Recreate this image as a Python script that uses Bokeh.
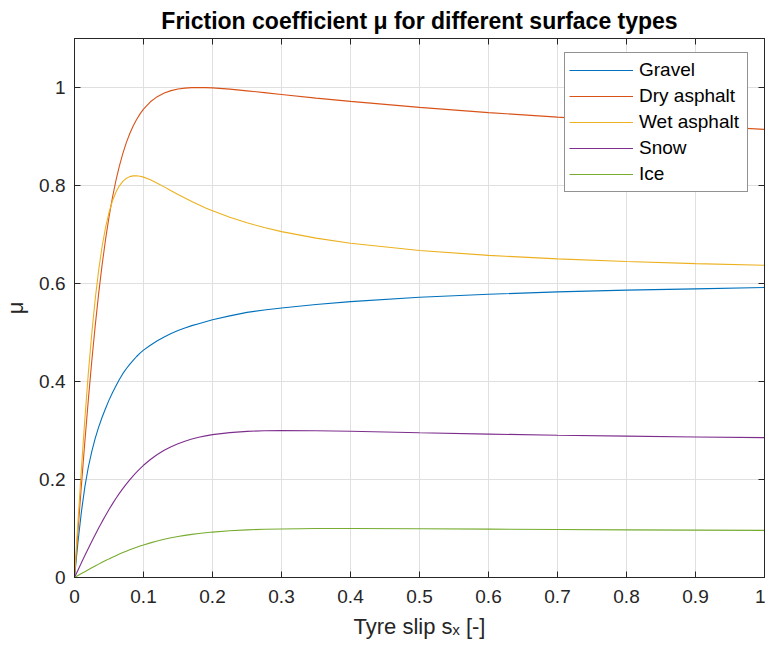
from bokeh.plotting import figure
from bokeh.models import (Range1d, FixedTicker, CustomJSTickFormatter, LinearAxis,
                          Legend, LegendItem)
from bokeh.embed import file_html
from bokeh.resources import INLINE

# ---- data ----
slip = [0, 0.005, 0.01, 0.015, 0.02, 0.025, 0.03, 0.035, 0.04, 0.045, 0.05,
        0.055, 0.06, 0.065, 0.07, 0.075, 0.08, 0.085, 0.09, 0.095, 0.10,
        0.11, 0.12, 0.13, 0.14, 0.15, 0.16, 0.17, 0.18, 0.19, 0.20,
        0.225, 0.25, 0.275, 0.30, 0.35, 0.40, 0.50, 0.60, 0.70, 0.80, 0.90, 1.00]
gravel = [0, 0.072, 0.134, 0.185, 0.225, 0.257, 0.284, 0.307, 0.327, 0.345, 0.362,
          0.377, 0.391, 0.404, 0.416, 0.426, 0.435, 0.443, 0.451, 0.458, 0.464,
          0.474, 0.483, 0.491, 0.498, 0.504, 0.509, 0.514, 0.518, 0.522, 0.526,
          0.534, 0.541, 0.546, 0.550, 0.557, 0.563, 0.572, 0.578, 0.583, 0.5865,
          0.589, 0.592]
dry_asphalt = [0, 0.0948, 0.1877, 0.2772, 0.3620, 0.4410, 0.5135, 0.5793, 0.6379,
               0.6899, 0.7356, 0.7755, 0.8099, 0.8396, 0.8651, 0.8870, 0.9056,
               0.9214, 0.9348, 0.9462, 0.9558, 0.9708, 0.9813, 0.9887, 0.9936,
               0.9968, 0.9987, 0.9997, 1.0000, 0.9998, 0.9992, 0.9966, 0.9932,
               0.9895, 0.9858, 0.9783, 0.9716, 0.9594, 0.9488, 0.9395, 0.9308,
               0.9226, 0.9145]
wet_asphalt = [0, 0.1125, 0.2214, 0.3234, 0.4160, 0.4977, 0.5680, 0.6270, 0.6755,
               0.7143, 0.7449, 0.7685, 0.7863, 0.7993, 0.8084, 0.8145, 0.8181,
               0.8197, 0.8199, 0.8190, 0.8171, 0.8116, 0.8047, 0.7972, 0.7894,
               0.7818, 0.7744, 0.7673, 0.7606, 0.7542, 0.7483, 0.7351, 0.7238,
               0.7142, 0.7059, 0.6926, 0.6822, 0.6674, 0.6574, 0.6503, 0.6448,
               0.6406, 0.6372]
snow = [0, 0.0150, 0.0299, 0.0447, 0.0592, 0.0735, 0.0874, 0.1009, 0.1140, 0.1266,
        0.1387, 0.1502, 0.1612, 0.1716, 0.1814, 0.1907, 0.1994, 0.2076, 0.2152,
        0.2223, 0.2290, 0.2408, 0.2510, 0.2596, 0.2669, 0.2730, 0.2782, 0.2825,
        0.2861, 0.2890, 0.2915, 0.2957, 0.2982, 0.2995, 0.3000, 0.2996, 0.2985,
        0.2955, 0.2927, 0.2904, 0.2885, 0.2868, 0.2855]
ice = [0, 0.0040, 0.0080, 0.0119, 0.0159, 0.0197, 0.0235, 0.0273, 0.0310, 0.0345,
       0.0380, 0.0414, 0.0446, 0.0478, 0.0508, 0.0537, 0.0565, 0.0592, 0.0617,
       0.0642, 0.0665, 0.0707, 0.0746, 0.0780, 0.0810, 0.0837, 0.0860, 0.0880,
       0.0898, 0.0914, 0.0927, 0.0954, 0.0972, 0.0984, 0.0991, 0.0999, 0.1000,
       0.0995, 0.0987, 0.0979, 0.0972, 0.0967, 0.0962]

series_names = ["Gravel", "Dry asphalt", "Wet asphalt", "Snow", "Ice"]
series_values = [gravel, dry_asphalt, wet_asphalt, snow, ice]
series_colors = ["#0072BD", "#D95319", "#EDB120", "#7E2F8E", "#77AC30"]

x_ticks = [0, 0.1, 0.2, 0.3, 0.4, 0.5, 0.6, 0.7, 0.8, 0.9, 1.0]
y_ticks = [0, 0.2, 0.4, 0.6, 0.8, 1.0]

FONT = "Liberation Sans"
TXT = "#262626"

p = figure(frame_width=690, frame_height=539,
           x_range=Range1d(0, 1), y_range=Range1d(0, 1.1),
           output_backend="svg", toolbar_location=None,
           min_border_left=74, min_border_right=1,
           min_border_top=38, min_border_bottom=74,
           title="Friction coefficient \u03bc for different surface types")

p.title.text_font = FONT
p.title.text_font_size = "23px"
p.title.text_font_style = "bold"
p.title.text_color = "#000000"
p.title.align = "center"
p.title.standoff = 10

fmt = CustomJSTickFormatter(code="""
  var s = tick.toFixed(1);
  if (s.endsWith('.0')) s = s.slice(0, -2);
  return s;
""")

p.xaxis.ticker = FixedTicker(ticks=x_ticks)
p.yaxis.ticker = FixedTicker(ticks=y_ticks)
for ax in (p.xaxis[0], p.yaxis[0]):
    ax.formatter = fmt
    ax.major_label_text_font = FONT
    ax.major_label_text_font_size = "19px"
    ax.major_label_text_color = TXT
    ax.axis_label_text_font = FONT
    ax.axis_label_text_font_size = "22px"
    ax.axis_label_text_font_style = "normal"
    ax.axis_label_text_color = TXT
    ax.axis_line_color = TXT
    ax.major_tick_line_color = TXT
    ax.major_tick_in = 6
    ax.major_tick_out = 0
    ax.minor_tick_line_color = None

p.xaxis.axis_label = "Tyre slip s\u2093 [-]"
p.yaxis.axis_label = "\u03bc"
p.xaxis.major_label_standoff = 12
p.yaxis.major_label_standoff = 9
p.xaxis.axis_label_standoff = 8
p.yaxis.axis_label_standoff = 8

# mirrored ticks on top and right (MATLAB box), without labels
for side, ticks in (("above", x_ticks), ("right", y_ticks)):
    mirror = LinearAxis(ticker=FixedTicker(ticks=ticks), major_label_text_color=None,
                        major_label_text_alpha=0, major_label_text_font_size="0px",
                        major_label_standoff=0,
                        axis_line_color=TXT, major_tick_line_color=TXT,
                        major_tick_in=6, major_tick_out=0, minor_tick_line_color=None)
    p.add_layout(mirror, side)

p.xgrid.ticker = FixedTicker(ticks=x_ticks)
p.ygrid.ticker = FixedTicker(ticks=y_ticks)
p.grid.grid_line_color = "#e0e0e0"
p.grid.grid_line_width = 1
p.outline_line_color = TXT
p.background_fill_color = "white"
p.border_fill_color = "white"

items = []
for name, vals, col in zip(series_names, series_values, series_colors):
    r = p.line(slip, vals, line_color=col, line_width=1.1)
    items.append(LegendItem(label=name, renderers=[r]))

legend = Legend(items=items, location=(490, 385))
legend.label_text_font = FONT
legend.label_text_font_size = "19px"
legend.label_text_color = "#000000"
legend.border_line_color = TXT
legend.border_line_width = 1
legend.background_fill_color = "white"
legend.background_fill_alpha = 1.0
legend.glyph_width = 64
legend.glyph_height = 26
legend.label_height = 26
legend.label_width = 104
legend.spacing = 0
legend.padding = 4
legend.margin = 0
legend.label_standoff = 6
p.add_layout(legend)

open("out.html", "w").write(file_html(p, INLINE))
